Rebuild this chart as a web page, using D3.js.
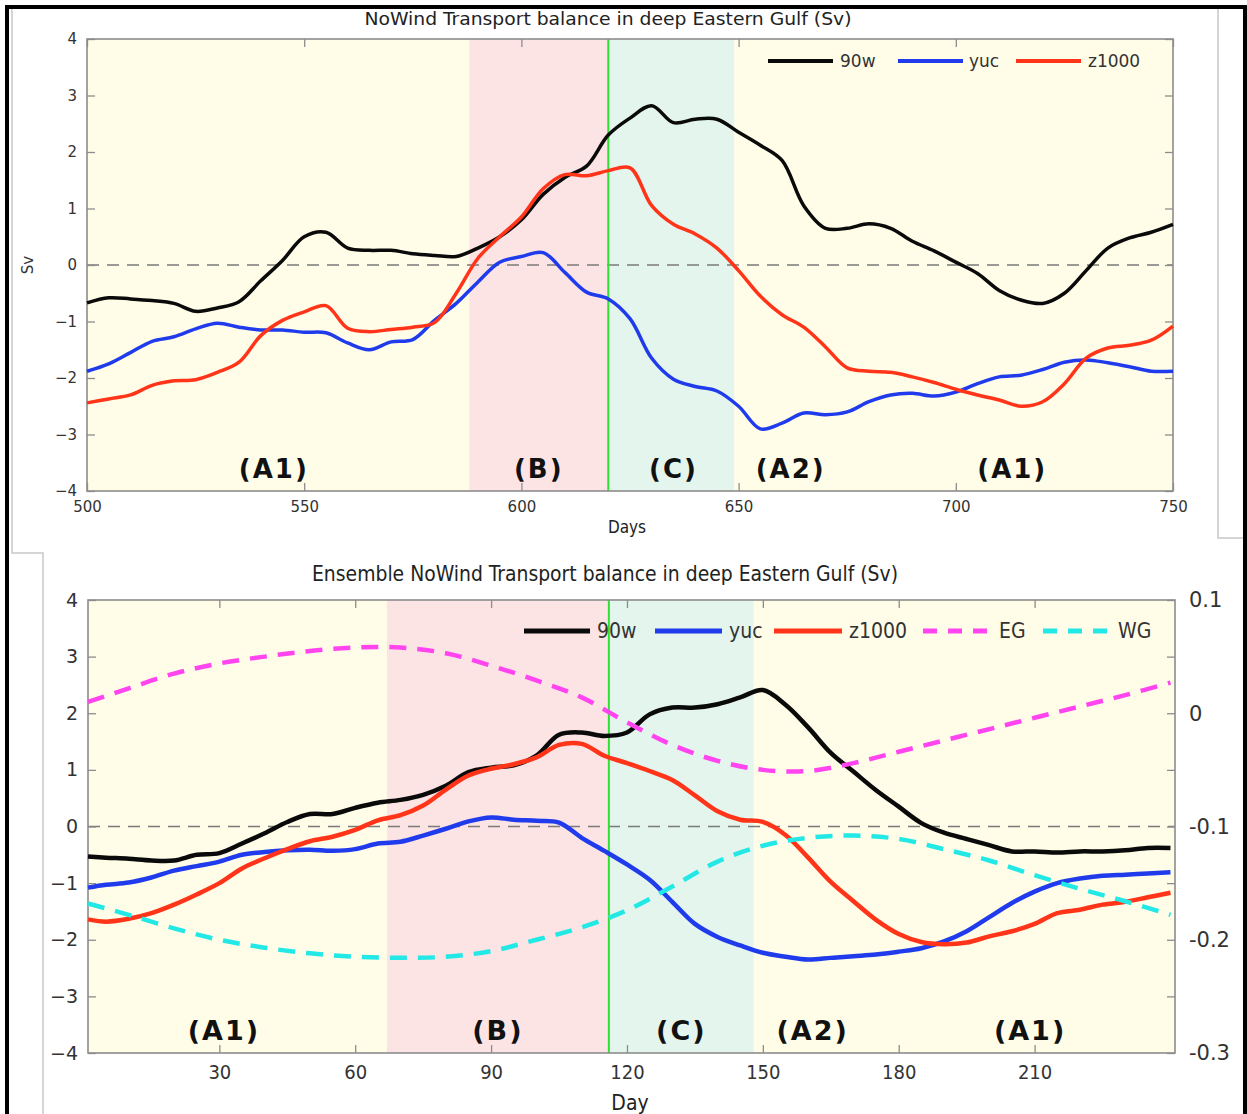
<!DOCTYPE html>
<html><head><meta charset="utf-8">
<script src="https://cdn.jsdelivr.net/npm/d3@7"></script>
<style>
html,body{margin:0;padding:0;background:#fff;}
svg{display:block;}
</style></head><body>
<svg id="fig" width="1247" height="1114"></svg>
<script>
// ---------- Upper panel: NoWind run, days 500-750 (Sv) ----------
const daysA = [500,505,510,515,520,525,530,535,540,545,550,555,560,565,570,575,580,585,590,595,
  600,605,610,615,620,625,630,635,640,645,650,655,660,665,670,675,680,685,690,695,
  700,705,710,715,720,725,730,735,740,745,750];
const w90A = [-0.67,-0.58,-0.6,-0.63,-0.68,-0.82,-0.76,-0.65,-0.28,0.08,0.5,0.58,0.3,0.26,0.26,0.2,0.17,0.15,0.3,0.5,
  0.8,1.25,1.55,1.75,2.3,2.6,2.82,2.52,2.58,2.58,2.35,2.12,1.85,1.05,0.65,0.65,0.73,0.65,0.42,0.25,
  0.05,-0.15,-0.45,-0.62,-0.68,-0.5,-0.1,0.3,0.48,0.58,0.72];
const yucA = [-1.88,-1.75,-1.55,-1.35,-1.27,-1.13,-1.03,-1.1,-1.15,-1.15,-1.19,-1.2,-1.38,-1.5,-1.36,-1.32,-0.98,-0.68,-0.3,0.05,
  0.15,0.22,-0.13,-0.48,-0.6,-0.95,-1.65,-2.02,-2.15,-2.23,-2.5,-2.9,-2.8,-2.62,-2.65,-2.6,-2.42,-2.3,-2.27,-2.32,
  -2.25,-2.1,-1.98,-1.95,-1.85,-1.72,-1.68,-1.73,-1.8,-1.88,-1.88];
const z1000A = [-2.44,-2.37,-2.3,-2.13,-2.05,-2.03,-1.9,-1.72,-1.25,-0.98,-0.83,-0.72,-1.12,-1.18,-1.14,-1.1,-1.02,-0.5,0.12,0.5,
  0.85,1.35,1.6,1.58,1.67,1.72,1.05,0.72,0.55,0.3,-0.1,-0.55,-0.88,-1.1,-1.45,-1.82,-1.88,-1.9,-1.98,-2.08,
  -2.2,-2.3,-2.39,-2.5,-2.42,-2.1,-1.65,-1.47,-1.42,-1.33,-1.08];
const phaseBoundsA = [500, 588, 620, 649, 750];
const phaseLabelsA = ["(A1)", "(B)", "(C)", "(A2)", "(A1)"];
const phaseLabelDaysA = [543, 604, 635, 662, 713];
const dividerDayA = 620;

// ---------- Lower panel: ensemble NoWind, days 1-240 (Sv, EG/WG on right axis) ----------
const daysB = [1,5,10,15,20,25,30,35,40,45,50,55,60,65,70,75,80,85,90,95,
  100,105,110,115,120,125,130,135,140,145,150,155,160,165,170,175,180,185,190,195,
  200,205,210,215,220,225,230,235,240];
const w90B = [-0.53,-0.55,-0.57,-0.6,-0.6,-0.5,-0.47,-0.3,-0.12,0.08,0.22,0.22,0.33,0.42,0.47,0.56,0.72,0.96,1.04,1.08,
  1.25,1.62,1.66,1.6,1.66,1.98,2.1,2.1,2.16,2.28,2.41,2.15,1.75,1.3,0.97,0.64,0.35,0.06,-0.11,-0.22,
  -0.33,-0.44,-0.44,-0.46,-0.44,-0.44,-0.42,-0.38,-0.38];
const yucB = [-1.08,-1.03,-0.99,-0.9,-0.78,-0.7,-0.62,-0.5,-0.45,-0.42,-0.41,-0.43,-0.4,-0.3,-0.27,-0.16,-0.04,0.09,0.16,0.12,
  0.1,0.07,-0.2,-0.43,-0.67,-0.94,-1.33,-1.72,-1.95,-2.1,-2.23,-2.3,-2.35,-2.32,-2.29,-2.26,-2.21,-2.15,-2.03,-1.85,
  -1.6,-1.35,-1.15,-1.0,-0.92,-0.87,-0.85,-0.83,-0.81];
const z1000B = [-1.64,-1.68,-1.63,-1.53,-1.38,-1.2,-1.0,-0.74,-0.56,-0.4,-0.26,-0.18,-0.06,0.11,0.2,0.37,0.65,0.9,1.02,1.1,
  1.22,1.44,1.46,1.25,1.12,0.98,0.82,0.55,0.27,0.12,0.08,-0.15,-0.55,-0.98,-1.32,-1.65,-1.9,-2.04,-2.08,-2.05,
  -1.94,-1.85,-1.72,-1.53,-1.47,-1.38,-1.33,-1.25,-1.17];
const daysGulf = [1,10,20,30,40,50,60,70,80,90,100,110,120,130,140,150,160,170,180,190,200,210,220,230,240];
const egB = [0.010,0.022,0.035,0.044,0.050,0.055,0.058,0.058,0.053,0.042,0.029,0.014,-0.008,-0.028,-0.042,-0.050,-0.051,-0.044,-0.034,-0.024,-0.014,-0.004,0.006,0.016,0.027];
const wgB = [-0.168,-0.178,-0.190,-0.200,-0.207,-0.212,-0.215,-0.216,-0.215,-0.210,-0.200,-0.189,-0.174,-0.153,-0.131,-0.117,-0.110,-0.108,-0.111,-0.120,-0.130,-0.143,-0.155,-0.166,-0.178];
const phaseBoundsB = [1, 67, 116, 148, 241];
const phaseLabelsB = ["(A1)", "(B)", "(C)", "(A2)", "(A1)"];
const phaseLabelDaysB = [31, 91.5, 132, 161, 209];
const dividerDayB = 116;

// Tick labels
const yTicks = [-4,-3,-2,-1,0,1,2,3,4];
const xTicksA = [500,550,600,650,700,750];
const xTicksB = [30,60,90,120,150,180,210];
const rightTicksB = [0.1,0,-0.1,-0.2,-0.3];

// ---------- styling ----------
const C = {
  yellow: "#fffde7", pink: "#fde4e4", mint: "#e4f5ed",
  black: "#0a0a0a", blue: "#1f3bec", red: "#ff3419", magenta: "#ff44f0", cyan: "#22e8e6",
  divider: "#2fe22f", axis: "#8c8c8c", text: "#333"
};
const phaseFill = [C.yellow, C.pink, C.mint, C.yellow, C.yellow];
const fmtMinus = d => (d < 0 ? "\u2212" + Math.abs(d) : String(d));

const svg = d3.select("#fig");

// sheet frame
svg.append("rect").attr("x",0).attr("y",0).attr("width",1247).attr("height",1114).attr("fill","#fff");
svg.append("path").attr("d","M7,1114 V7 H1245 V1114").attr("fill","none").attr("stroke","#000").attr("stroke-width",4);
svg.append("path").attr("d","M12,9 V553 H43 V1114").attr("fill","none").attr("stroke","#c8c8c8").attr("stroke-width",1.5);
svg.append("path").attr("d","M1218,9 V538 H1243").attr("fill","none").attr("stroke","#c8c8c8").attr("stroke-width",1.5);

function drawPanel(o) {
  const g = svg.append("g");
  const x = d3.scaleLinear().domain(o.xDomain).range([o.left, o.right]);
  const y = d3.scaleLinear().domain([-4, 4]).range([o.bottom, o.top]);

  // phase shading
  for (let i = 0; i < o.bounds.length - 1; i++) {
    g.append("rect")
      .attr("x", x(Math.max(o.bounds[i], o.xDomain[0])))
      .attr("y", o.top)
      .attr("width", x(Math.min(o.bounds[i+1], o.xDomain[1])) - x(Math.max(o.bounds[i], o.xDomain[0])))
      .attr("height", o.bottom - o.top)
      .attr("fill", phaseFill[i]);
  }
  // phase labels
  o.labels.forEach((t, i) => {
    g.append("text").attr("x", x(o.labelDays[i])).attr("y", o.labelY)
      .attr("text-anchor", "middle")
      .attr("font-family", "DejaVu Sans, sans-serif").attr("font-weight", "bold")
      .attr("font-size", o.labelSize).attr("letter-spacing", 2).attr("fill", "#111")
      .text(t);
  });
  // zero reference
  g.append("line").attr("x1", o.left).attr("x2", o.right).attr("y1", y(0)).attr("y2", y(0))
    .attr("stroke", "#7a7a7a").attr("stroke-width", 1.4).attr("stroke-dasharray", "12,8");
  // phase divider
  g.append("line").attr("x1", x(o.divider)).attr("x2", x(o.divider)).attr("y1", o.top).attr("y2", o.bottom)
    .attr("stroke", C.divider).attr("stroke-width", 2);

  // axes
  const tick = 8;
  const ax = g.append("g").attr("font-family", o.tickFont).attr("fill", C.text);
  const styleAxis = sel => {
    sel.select(".domain").remove();
    sel.selectAll(".tick line").attr("stroke", C.axis).attr("stroke-width", 1.3);
    sel.selectAll(".tick text").attr("fill", C.text);
  };
  ax.append("g").attr("transform", `translate(${o.left},0)`)
    .call(d3.axisLeft(y).tickValues(yTicks).tickFormat(fmtMinus).tickSizeInner(-tick).tickSizeOuter(0).tickPadding(10))
    .call(styleAxis)
    .call(s => s.selectAll("text").attr("font-size", o.yTickSize).attr("font-family", "DejaVu Sans, sans-serif"));
  ax.append("g").attr("transform", `translate(0,${o.bottom})`)
    .call(d3.axisBottom(x).tickValues(o.xTicks).tickSizeInner(-tick).tickSizeOuter(0).tickPadding(o.xTickPad))
    .call(styleAxis)
    .call(s => s.selectAll("text").attr("font-size", o.xTickSize).attr("font-family", o.xTickFont));
  ax.append("g").attr("transform", `translate(0,${o.top})`)
    .call(d3.axisTop(x).tickValues(o.xTicks).tickFormat("").tickSizeInner(-tick).tickSizeOuter(0))
    .call(styleAxis);
  if (!o.rightScale) {
    ax.append("g").attr("transform", `translate(${o.right},0)`)
      .call(d3.axisRight(y).tickValues(yTicks).tickFormat("").tickSizeInner(-tick).tickSizeOuter(0))
      .call(styleAxis);
  }

  // frame
  g.append("rect").attr("x", o.left).attr("y", o.top).attr("width", o.right - o.left).attr("height", o.bottom - o.top)
    .attr("fill", "none").attr("stroke", C.axis).attr("stroke-width", 1.6);

  // series
  const line = d3.line().curve(d3.curveCatmullRom.alpha(0.5));
  o.series.forEach(s => {
    const sy = s.right ? o.rightScale : y;
    g.append("path")
      .attr("d", line(s.days.map((d, i) => [x(d), sy(s.values[i])])))
      .attr("fill", "none").attr("stroke", s.color).attr("stroke-width", o.lineWidth)
      .attr("stroke-linejoin", "round")
      .attr("stroke-dasharray", s.dash || null);
  });

  // legend
  const lg = g.append("g");
  o.series.forEach((s, i) => {
    const L = o.legend[i];
    lg.append("line").attr("x1", L[0]).attr("x2", L[1]).attr("y1", o.legendY).attr("y2", o.legendY)
      .attr("stroke", s.color).attr("stroke-width", o.legendWidth).attr("stroke-dasharray", s.legendDash || null);
    lg.append("text").attr("x", L[2]).attr("y", o.legendY).attr("dy", "0.35em")
      .attr("font-family", o.legendFont).attr("font-size", o.legendSize).attr("fill", C.text)
      .text(s.name);
  });

  // titles
  g.append("text").attr("x", o.titleX).attr("y", o.titleY).attr("text-anchor", "middle")
    .attr("font-family", o.titleFont).attr("font-size", o.titleSize).attr("fill", "#222")
    .attr("textLength", o.titleWidth).attr("lengthAdjust", "spacingAndGlyphs")
    .text(o.title);
  g.append("text").attr("x", o.xLabelX).attr("y", o.xLabelY).attr("text-anchor", "middle")
    .attr("font-family", o.titleFont).attr("font-size", o.xLabelSize).attr("fill", "#222").text(o.xLabel);
  return { g, x, y };
}

// upper panel
const A = drawPanel({
  xDomain: [500, 750], left: 87, right: 1173, top: 39, bottom: 491,
  bounds: phaseBoundsA, labels: phaseLabelsA, labelDays: phaseLabelDaysA, labelY: 478, labelSize: 26,
  divider: dividerDayA, xTicks: xTicksA,
  tickFont: "DejaVu Sans, sans-serif", yTickSize: 15, xTickSize: 15, xTickFont: "DejaVu Sans, sans-serif", xTickPad: 10,
  lineWidth: 3.5, legendWidth: 4, legendY: 61, legendFont: "DejaVu Sans, sans-serif", legendSize: 17,
  legend: [[768, 833, 840], [898, 963, 969], [1016, 1081, 1088]],
  series: [
    { name: "90w", days: daysA, values: w90A, color: C.black },
    { name: "yuc", days: daysA, values: yucA, color: C.blue },
    { name: "z1000", days: daysA, values: z1000A, color: C.red }
  ],
  title: "NoWind Transport balance in deep Eastern Gulf (Sv)", titleX: 608, titleY: 25, titleSize: 18, titleWidth: 487,
  titleFont: "'DejaVu Sans Condensed', sans-serif",
  xLabel: "Days", xLabelX: 627, xLabelY: 533, xLabelSize: 17
});
// y-axis name of upper panel
svg.append("text").attr("transform", "translate(33,265) rotate(-90)").attr("text-anchor", "middle")
  .attr("font-family", "DejaVu Sans, sans-serif").attr("font-size", 15).attr("fill", C.text).text("Sv");

// lower panel right-hand scale (EG / WG)
const yRightB = d3.scaleLinear().domain([-0.3, 0.1]).range([1053, 600]);
const B = drawPanel({
  xDomain: [1, 241], left: 88, right: 1175, top: 600, bottom: 1053,
  bounds: phaseBoundsB, labels: phaseLabelsB, labelDays: phaseLabelDaysB, labelY: 1040, labelSize: 27,
  divider: dividerDayB, xTicks: xTicksB, rightScale: yRightB,
  tickFont: "DejaVu Sans, sans-serif", yTickSize: 19, xTickSize: 20,
  xTickFont: "'DejaVu Sans Condensed', sans-serif", xTickPad: 12,
  lineWidth: 4.5, legendWidth: 5, legendY: 631, legendFont: "'DejaVu Sans Condensed', sans-serif", legendSize: 21,
  legend: [[524, 590, 597], [655, 722, 729], [774, 842, 849], [923, 992, 999], [1043, 1111, 1118]],
  series: [
    { name: "90w", days: daysB, values: w90B, color: C.black },
    { name: "yuc", days: daysB, values: yucB, color: C.blue },
    { name: "z1000", days: daysB, values: z1000B, color: C.red },
    { name: "EG", days: daysGulf, values: egB, color: C.magenta, right: true, dash: "17,11", legendDash: "14,11" },
    { name: "WG", days: daysGulf, values: wgB, color: C.cyan, right: true, dash: "17,11", legendDash: "14,11" }
  ],
  title: "Ensemble NoWind Transport balance in deep Eastern Gulf (Sv)", titleX: 605, titleY: 581, titleSize: 21, titleWidth: 586,
  titleFont: "'DejaVu Sans Condensed', sans-serif",
  xLabel: "Day", xLabelX: 630, xLabelY: 1110, xLabelSize: 21
});
// right axis of lower panel
const rAx = svg.append("g").attr("transform", "translate(1175,0)");
rAx.call(d3.axisRight(yRightB).tickValues(d3.range(-0.3, 0.1001, 0.05)).tickFormat("").tickSizeInner(-8).tickSizeOuter(0))
  .call(s => { s.select(".domain").remove(); s.selectAll(".tick line").attr("stroke", C.axis).attr("stroke-width", 1.3); });
svg.append("g").selectAll("text").data(rightTicksB).join("text")
  .attr("x", 1189).attr("y", d => yRightB(d)).attr("dy", "0.35em")
  .attr("font-family", "DejaVu Sans, sans-serif").attr("font-size", 21).attr("fill", C.text)
  .text(d => d === 0 ? "0" : String(d));
</script>
</body></html>
